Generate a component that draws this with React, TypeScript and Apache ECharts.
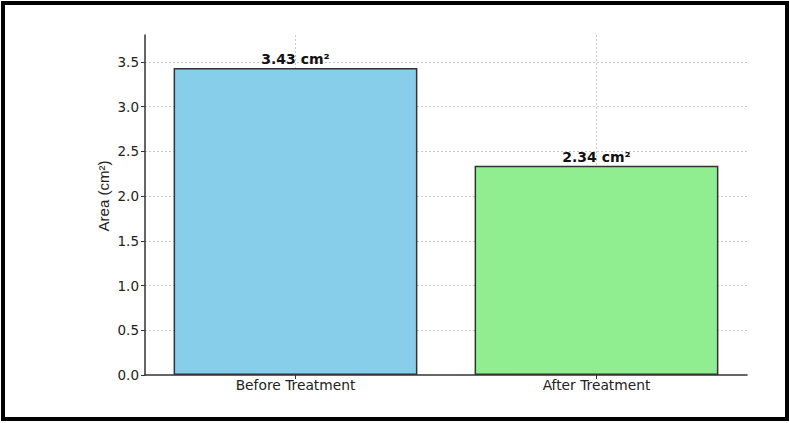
import React, { useEffect, useRef } from "react";
import * as echarts from "echarts";

const categories = ["Before Treatment", "After Treatment"];
const areaValues = [3.43, 2.34];
const barColors = ["#87CEEB", "#90EE90"];
const yTicks = { min: 0, max: 3.8, interval: 0.5 };
const yAxisTitle = "Area (cm²)";
const unit = "cm²";

export default function App() {
  const ref = useRef<HTMLDivElement>(null);
  useEffect(() => {
    document.body.style.margin = "0";
    const chart = echarts.init(ref.current!, undefined, { renderer: "svg" });
    const option: any = {
      animation: false,
      backgroundColor: "#ffffff",
      grid: { left: 145, right: 43, top: 35, bottom: 48, containLabel: false },
      xAxis: {
        type: "category",
        data: categories,
        boundaryGap: true,
        axisLine: { show: true, lineStyle: { color: "#333", width: 1.5 } },
        axisTick: { show: true, alignWithLabel: true, length: 4, lineStyle: { color: "#333" } },
        axisLabel: { fontFamily: "DejaVu Sans", fontSize: 13.8, color: "#222", margin: 3 },
        splitLine: {
          show: true,
          alignWithLabel: true,
          lineStyle: { type: [2, 2], color: "#c8c8c8", width: 1 },
        },
      },
      yAxis: {
        type: "value",
        min: yTicks.min,
        max: yTicks.max,
        interval: yTicks.interval,
        axisLine: { show: true, lineStyle: { color: "#333", width: 1.5 } },
        axisTick: { show: true, length: 4, lineStyle: { color: "#333" } },
        axisLabel: {
          fontFamily: "DejaVu Sans",
          fontSize: 13.5,
          color: "#222",
          margin: 6,
          showMaxLabel: false,
          formatter: (v: number) => v.toFixed(1),
        },
        splitLine: {
          show: true,
          showMinLine: false,
          showMaxLine: false,
          lineStyle: { type: [2, 2], color: "#c8c8c8", width: 1 },
        },
      },
      series: [
        {
          type: "bar",
          barCategoryGap: "19%",
          data: areaValues.map((v, i) => ({
            value: v,
            itemStyle: { color: barColors[i] },
          })),
          itemStyle: { borderColor: "#333", borderWidth: 1.5 },
          label: {
            show: true,
            position: "top",
            distance: 2,
            fontFamily: "DejaVu Sans",
            fontWeight: "bold",
            fontSize: 14,
            color: "#111",
            formatter: (p: any) => `${p.value.toFixed(2)} ${unit}`,
          },
        },
      ],
      graphic: [
        {
          type: "text",
          x: 103,
          y: 196,
          rotation: Math.PI / 2,
          style: {
            text: yAxisTitle,
            font: "15px 'Liberation Sans'",
            fill: "#222",
            align: "center",
            verticalAlign: "middle",
          },
        },
        {
          type: "rect",
          shape: { x: 3, y: 3, width: 784, height: 416 },
          style: { stroke: "#000", lineWidth: 4, fill: "none" },
          silent: true,
        },
      ],
    };
    chart.setOption(option);
    return () => chart.dispose();
  }, []);
  return (
    <div
      ref={ref}
      style={{ position: "absolute", left: 0, top: 0, width: 790, height: 423 }}
    />
  );
}
